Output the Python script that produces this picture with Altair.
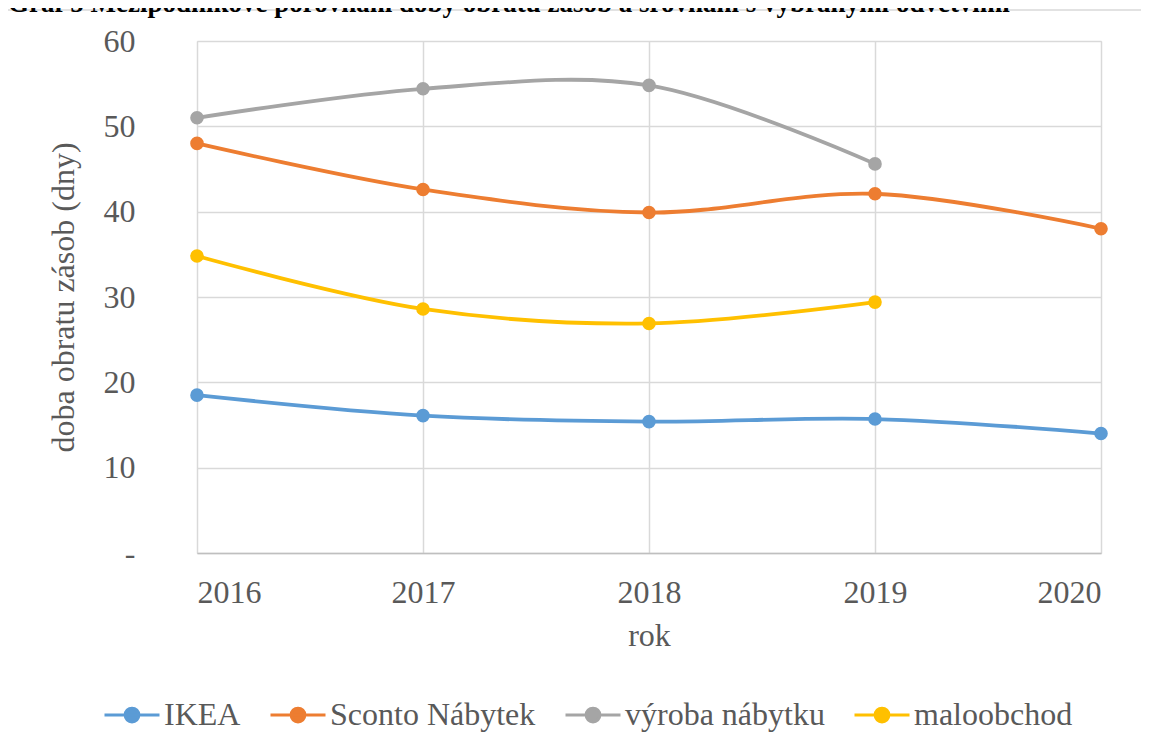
import altair as alt
import pandas as pd

years = [2016, 2017, 2018, 2019, 2020]
series_names = ["IKEA", "Sconto Nábytek", "výroba nábytku", "maloobchod"]
colors = ["#5B9BD5", "#ED7D31", "#A5A5A5", "#FFC000"]

ikea = [18.5, 16.1, 15.4, 15.7, 14.0]
sconto = [48.0, 42.6, 39.9, 42.1, 38.0]
vyroba = [51.0, 54.4, 54.8, 45.6]
maloobchod = [34.8, 28.6, 26.9, 29.4]

y_ticks = [0, 10, 20, 30, 40, 50, 60]
title_text = "Graf 5 Mezipodnikové porovnání doby obratu zásob a srovnání s vybranými odvětvími"

rows = []
for name, vals in zip(series_names, [ikea, sconto, vyroba, maloobchod]):
    for yr, v in zip(years, vals):
        rows.append({"rok": yr, "hodnota": v, "serie": name})
df = pd.DataFrame(rows)

FONT = "Liberation Serif"
GREY = "#595959"
FS = 32

sym_path = "M-1,0L1,0M0.25,0A0.25,0.25,0,1,1,-0.25,0A0.25,0.25,0,1,1,0.25,0Z"

color = alt.Color(
    "serie:N",
    scale=alt.Scale(domain=series_names, range=colors),
    sort=series_names,
    legend=alt.Legend(
        title=None,
        orient="none",
        direction="horizontal",
        legendX=-94,
        legendY=645,
        symbolType=sym_path,
        symbolSize=3025,
        symbolStrokeWidth=3,
        labelFontSize=FS,
        labelColor=GREY,
        labelOffset=3,
        columnPadding=23,
        labelLimit=400,
    ),
)

x = alt.X(
    "rok:Q",
    scale=alt.Scale(domain=[2016, 2020], nice=False, zero=False),
    axis=alt.Axis(
        values=years,
        format="d",
        title="rok",
        labelFontSize=FS,
        labelColor=GREY,
        labelPadding=24,
        ticks=False,
        domainColor="#BFBFBF",
        domainWidth=1.5,
        gridColor="#D9D9D9",
        gridWidth=1.5,
        titleFontSize=FS,
        titleFontWeight="normal",
        titleColor=GREY,
        titleX=452,
        titleY=92,
        titleBaseline="alphabetic",
        titleAlign="center",
    ),
)

y = alt.Y(
    "hodnota:Q",
    scale=alt.Scale(domain=[0, 60], nice=False),
    axis=alt.Axis(
        values=y_ticks,
        labelExpr="datum.value == 0 ? '-\u00a0\u00a0' : datum.label",
        title="doba obratu zásob (dny)",
        labelFontSize=FS,
        labelColor=GREY,
        labelPadding=62,
        ticks=False,
        domain=False,
        gridColor="#D9D9D9",
        gridWidth=1.5,
        titleFontSize=FS,
        titleFontWeight="normal",
        titleColor=GREY,
        titleAngle=-90,
        titleX=-134,
        titleY=256,
        titleBaseline="middle",
        titleAlign="center",
    ),
)

base = alt.Chart(df)
lines = base.mark_line(interpolate="catmull-rom", strokeWidth=3.8).encode(x=x, y=y, color=color, detail="serie:N")
points = base.mark_point(filled=True, size=185, opacity=1).encode(x=x, y=y, color=color)

title_df = pd.DataFrame({"t": [title_text]})
title = alt.Chart(title_df).mark_text(
    fontSize=27, fontWeight="bold", color="#000000", align="left", baseline="alphabetic"
).encode(text="t:N", x=alt.value(-189), y=alt.value(-29))

frame = alt.Chart(title_df).mark_rule(color="#D9D9D9", strokeWidth=1.5).encode(
    x=alt.value(-189), x2=alt.value(944), y=alt.value(-31)
)

chart = alt.layer(frame, title, lines, points).properties(
    width=904,
    height=512,
    padding={"left": 189, "top": 33, "right": 40, "bottom": 180},
    autosize=alt.AutoSizeParams(type="none"),
).configure_view(stroke="transparent").configure(
    background="white", font=FONT
).configure_axis(labelFont=FONT, titleFont=FONT).configure_legend(labelFont=FONT).configure_text(font=FONT)

chart.save("out.html", embed_options={"renderer": "svg", "actions": False})
